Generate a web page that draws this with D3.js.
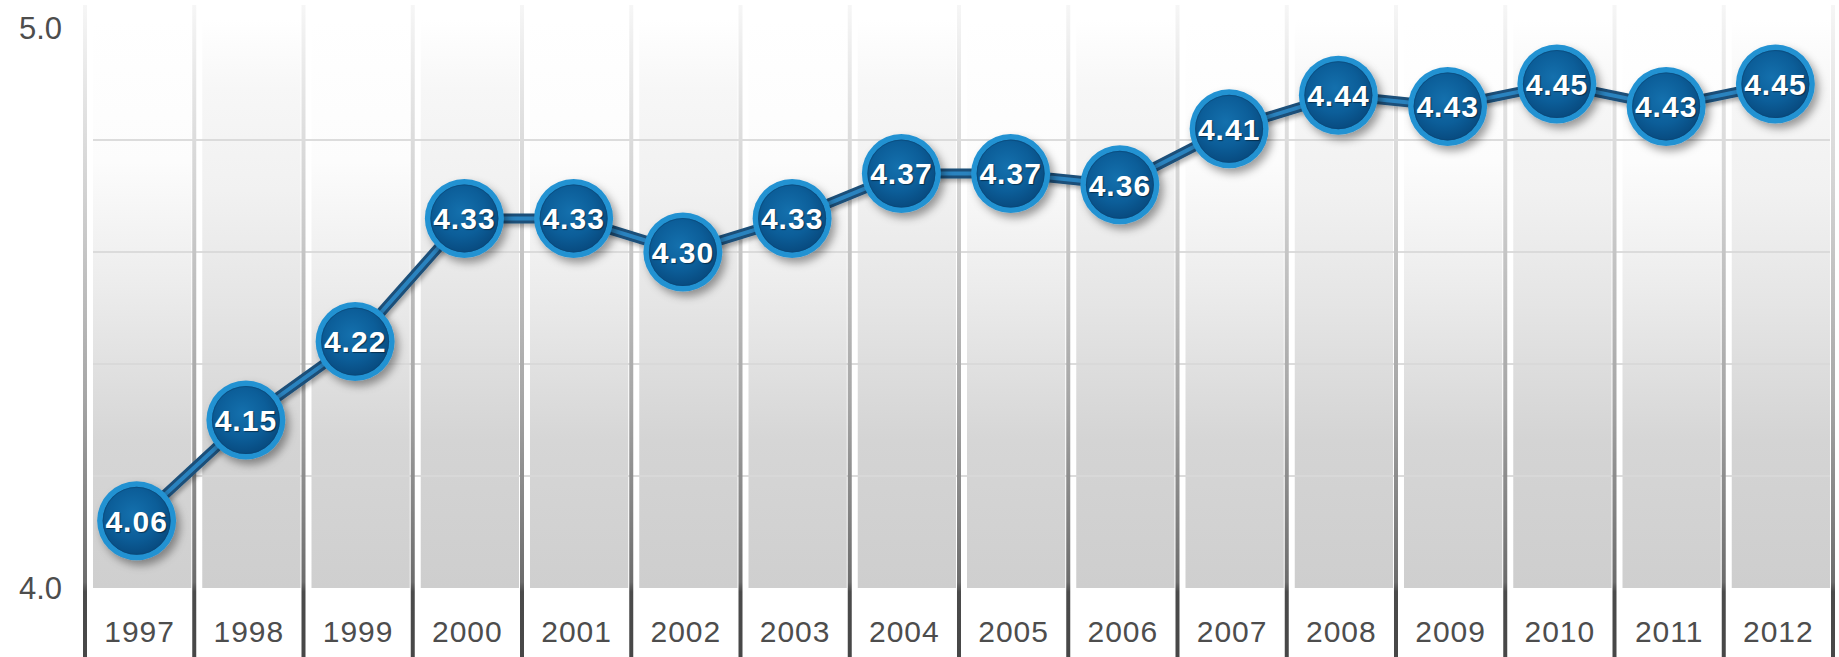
<!DOCTYPE html>
<html>
<head>
<meta charset="utf-8">
<script src="https://cdn.jsdelivr.net/npm/d3@7"></script>
<style>
  html, body { margin: 0; padding: 0; background: #ffffff; }
  svg { display: block; }
  text { font-family: "Liberation Sans", Arial, sans-serif; }
</style>
</head>
<body>
<svg id="chart" width="1839" height="657"></svg>
<script>
// Yearly scores, 1997–2012
const years = ["1997","1998","1999","2000","2001","2002","2003","2004",
               "2005","2006","2007","2008","2009","2010","2011","2012"];
const values = [4.06, 4.15, 4.22, 4.33, 4.33, 4.30, 4.33, 4.37,
                4.37, 4.36, 4.41, 4.44, 4.43, 4.45, 4.43, 4.45];
const yTickValues = [4.0, 4.5];
const yTickLabels = ["4.0", "5.0"];
const gridValues = [4.1, 4.2, 4.3, 4.4];

const W = 1839, H = 657;
const svg = d3.select("#chart");
const defs = svg.append("defs");

const x = d3.scaleBand().domain(years).range([85, 1833]).padding(0);
const y = d3.scaleLinear().domain([4.0, 4.5]).range([588, 28]);
const base = y(4.0);

// column fill: white at the top fading into a flat light grey
function columnGradient(id, stops) {
  const g = defs.append("linearGradient")
    .attr("id", id).attr("x1", 0).attr("y1", 0).attr("x2", 0).attr("y2", 1);
  stops.forEach(([o, c]) => g.append("stop").attr("offset", o).attr("stop-color", c));
}
columnGradient("colGrad",  [[0, "#ffffff"], [0.25, "#fcfcfc"], [0.47, "#ececec"], [0.74, "#d6d6d6"], [1, "#cfcfcf"]]);
columnGradient("colGrad2", [[0, "#ffffff"], [0.12, "#f7f7f7"], [0.3, "#f1f1f1"], [0.5, "#e5e5e5"], [0.74, "#d4d4d4"], [1, "#cecece"]]);

// separator shading: faint at the top, dark below the columns
const sepGrad = defs.append("linearGradient")
  .attr("id", "sepGrad").attr("gradientUnits", "userSpaceOnUse")
  .attr("x1", 0).attr("y1", 5).attr("x2", 0).attr("y2", H);
[[0, "#f6f6f6"], [0.3, "#d0d0d0"], [0.6, "#a6a6a6"], [0.885, "#6c6c6c"], [0.9, "#4b4b4b"], [1, "#474747"]]
  .forEach(([o, c]) => sepGrad.append("stop").attr("offset", o).attr("stop-color", c));

// marker fill
const dotGrad = defs.append("radialGradient")
  .attr("id", "dotGrad").attr("cx", "45%").attr("cy", "40%").attr("r", "60%");
[[0, "#1470ad"], [0.6, "#0c5e99"], [1, "#084b80"]]
  .forEach(([o, c]) => dotGrad.append("stop").attr("offset", o).attr("stop-color", c));

const shadow = defs.append("filter").attr("id", "shadow")
  .attr("x", "-30%").attr("y", "-30%").attr("width", "170%").attr("height", "170%");
shadow.append("feDropShadow").attr("dx", 4).attr("dy", 5).attr("stdDeviation", 4)
  .attr("flood-color", "#000").attr("flood-opacity", 0.38);

const lineShadow = defs.append("filter").attr("id", "lineShadow")
  .attr("x", "-10%").attr("y", "-10%").attr("width", "120%").attr("height", "130%");
lineShadow.append("feDropShadow").attr("dx", 2).attr("dy", 3).attr("stdDeviation", 2)
  .attr("flood-color", "#000").attr("flood-opacity", 0.3);

// grey columns
svg.append("g").selectAll("rect")
  .data(years)
  .join("rect")
  .attr("x", d => x(d) + 8)
  .attr("y", y(4.5) - 8)
  .attr("width", x.bandwidth() - 11)
  .attr("height", base - y(4.5) + 8)
  .attr("fill", (d, i) => i % 2 ? "url(#colGrad2)" : "url(#colGrad)");

// horizontal grid lines
svg.append("g").selectAll("line")
  .data(gridValues)
  .join("line")
  .attr("x1", x.range()[0] + 8).attr("x2", x.range()[1] - 3)
  .attr("y1", d => y(d)).attr("y2", d => y(d))
  .attr("stroke", "#d9d9d9").attr("stroke-width", 2).attr("opacity", 0.9);

// column separators
const sepX = years.map(d => x(d)).concat([x.range()[1]]);
svg.append("g").selectAll("rect")
  .data(sepX)
  .join("rect")
  .attr("x", d => d - 2)
  .attr("y", 5)
  .attr("width", 4)
  .attr("height", H - 5)
  .attr("fill", "url(#sepGrad)");

// y axis end labels
const yAxis = d3.axisLeft(y).tickValues(yTickValues)
  .tickFormat((d, i) => yTickLabels[i]).tickSize(0).tickPadding(0);
const gy = svg.append("g").attr("transform", "translate(62,0)").call(yAxis);
gy.select(".domain").remove();
gy.selectAll("text")
  .attr("font-size", 31).attr("fill", "#4d4d4d").attr("font-family", "Liberation Sans, Arial, sans-serif")
  .attr("dy", "0.35em");

// year labels
const xAxis = d3.axisBottom(x).tickSize(0).tickPadding(0);
const gx = svg.append("g").attr("transform", "translate(0,631)").call(xAxis);
gx.select(".domain").remove();
gx.selectAll("text")
  .attr("font-size", 30).attr("fill", "#4d4d4d").attr("letter-spacing", 1)
  .attr("font-family", "Liberation Sans, Arial, sans-serif")
  .attr("dy", "0.35em").attr("y", 0);

// connecting line
const cx = d => x(d) + x.bandwidth() / 2 - 3;
const line = d3.line().x((d, i) => cx(years[i])).y(d => y(d));
const lg = svg.append("g").attr("filter", "url(#lineShadow)");
lg.append("path").datum(values).attr("d", line)
  .attr("fill", "none").attr("stroke", "#1b4f79").attr("stroke-width", 10)
  .attr("stroke-linejoin", "round");
lg.append("path").datum(values).attr("d", line)
  .attr("fill", "none").attr("stroke", "#2c83bf").attr("stroke-width", 4)
  .attr("stroke-linejoin", "round");

// markers with value labels
const pts = svg.append("g").selectAll("g")
  .data(values)
  .join("g")
  .attr("transform", (d, i) => `translate(${cx(years[i])},${y(d)})`);
pts.append("circle").attr("r", 39.5).attr("fill", "#2492d2").attr("filter", "url(#shadow)");
pts.append("circle").attr("r", 34).attr("fill", "url(#dotGrad)");
pts.append("circle").attr("r", 33.5).attr("fill", "none")
  .attr("stroke", "#0a4675").attr("stroke-width", 1).attr("opacity", 0.6);
pts.append("text")
  .attr("text-anchor", "middle").attr("dy", "0.36em")
  .attr("font-size", 30).attr("font-weight", "bold").attr("letter-spacing", 1)
  .attr("fill", "#ffffff")
  .style("text-shadow", "1px 1px 1px rgba(0,0,0,0.45)")
  .text(d => d.toFixed(2));
</script>
</body>
</html>
